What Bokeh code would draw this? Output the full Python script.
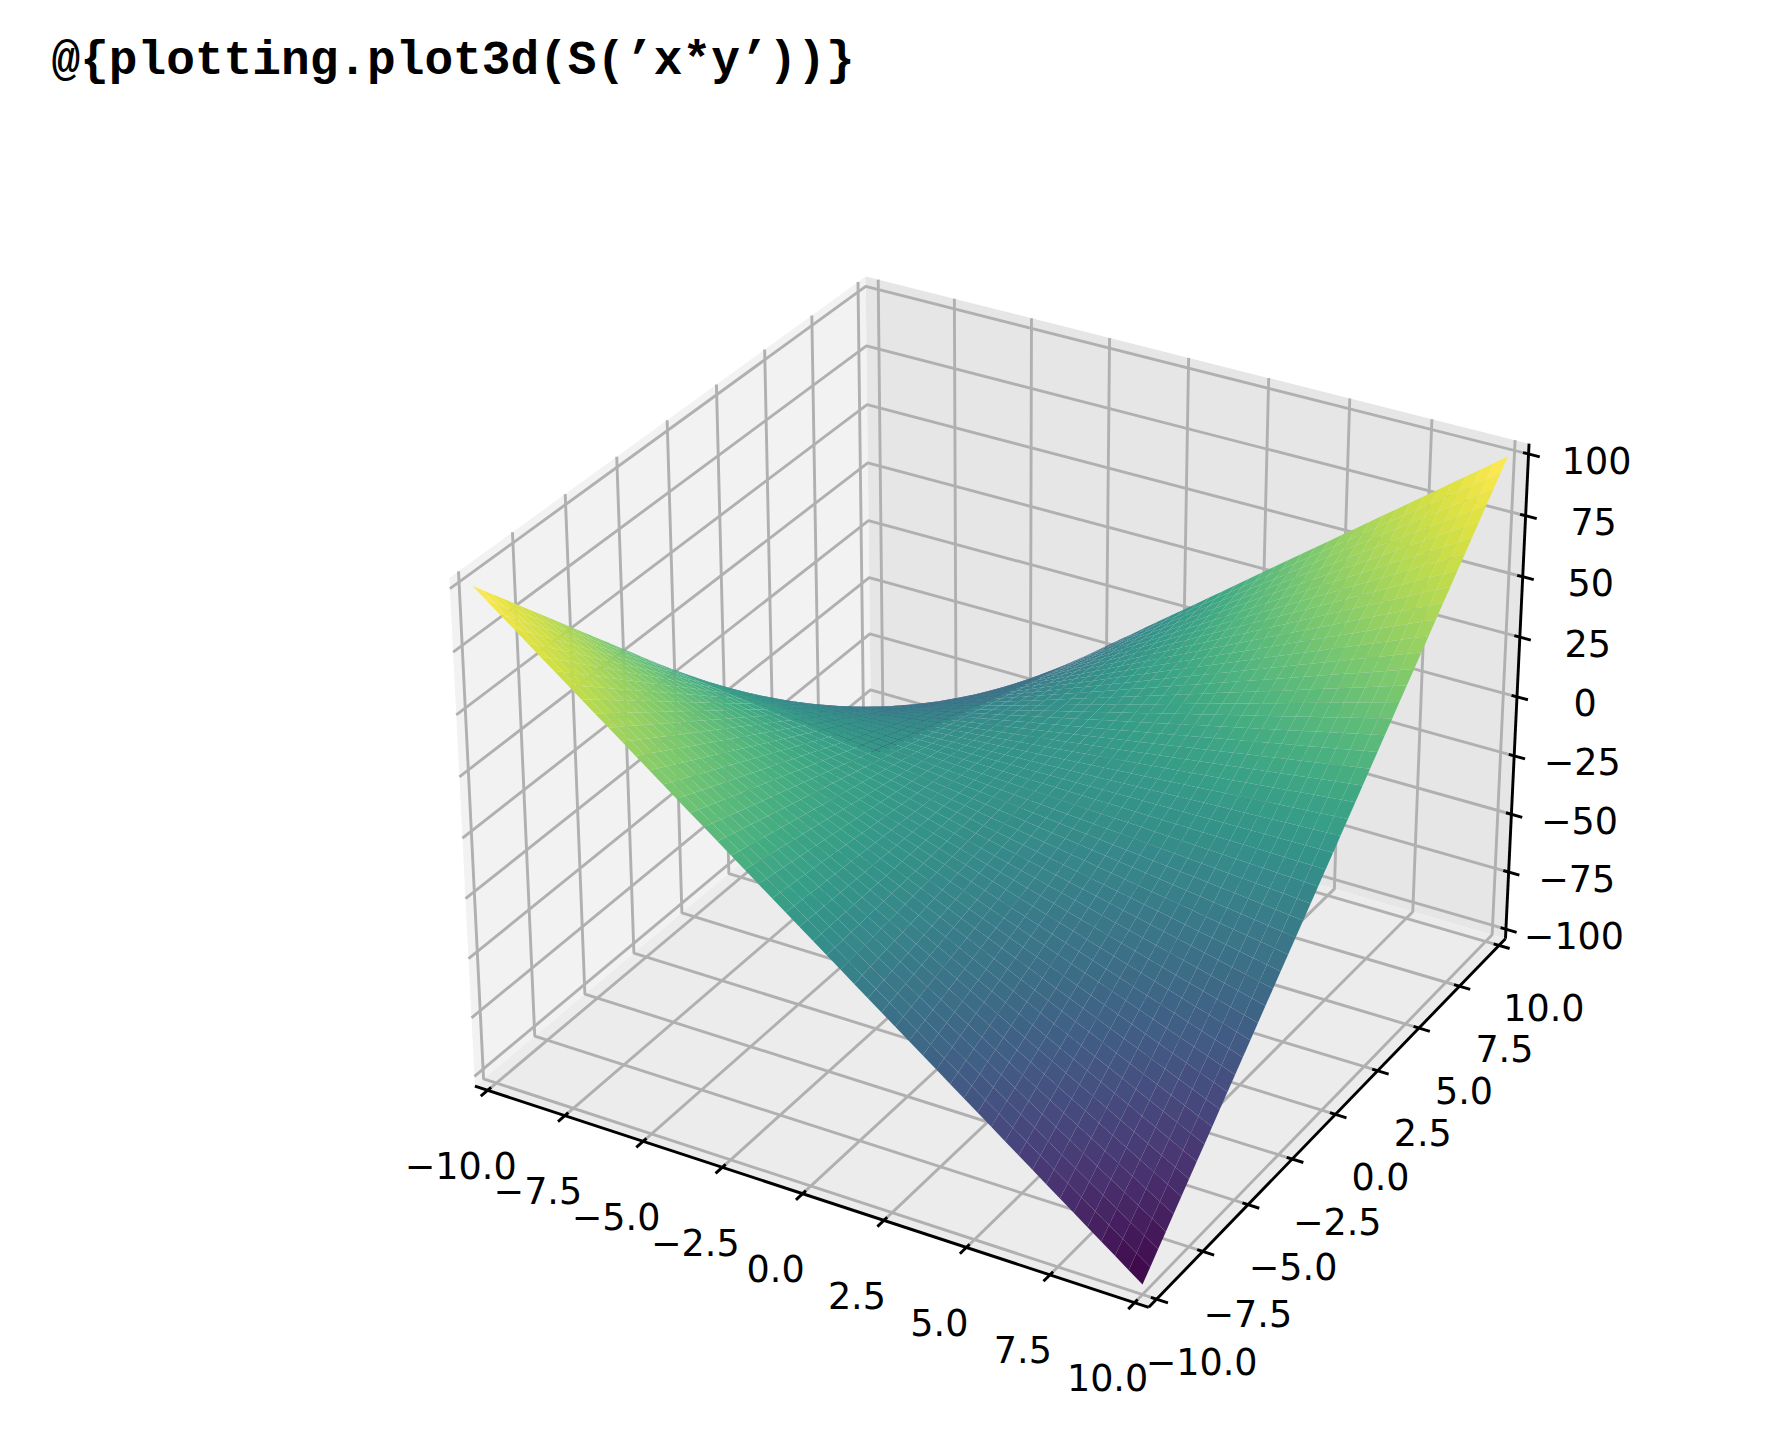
import numpy as np
from bokeh.plotting import figure, ColumnDataSource
from bokeh.models import Range1d, Title
from bokeh.core.properties import value
from bokeh.palettes import Viridis256
from bokeh.embed import file_html
from bokeh.resources import INLINE

# ---- chart content -------------------------------------------------------
title_text = "@{plotting.plot3d(S(\u2019x*y\u2019))}"
x_ticks = [-10.0, -7.5, -5.0, -2.5, 0.0, 2.5, 5.0, 7.5, 10.0]
y_ticks = [-10.0, -7.5, -5.0, -2.5, 0.0, 2.5, 5.0, 7.5, 10.0]
z_ticks = [-100, -75, -50, -25, 0, 25, 50, 75, 100]
x_limits = (-10.0, 10.0)
y_limits = (-10.0, 10.0)
z_limits = (-100.0, 100.0)
grid_points = 50                       # sympy's default sampling of plot3d
x_samples = np.linspace(*x_limits, grid_points)
y_samples = np.linspace(*y_limits, grid_points)
# The chart's title states the function: S('x*y')
z_samples = np.outer(y_samples, x_samples)

# ---- mplot3d-style camera ------------------------------------------------
ELEV, AZIM, DIST = np.radians(30), np.radians(-60), 10.0
aspect = np.array([4.0, 4.0, 3.0])
box = aspect * 1.8294640721620434 * 25 / 24 / np.linalg.norm(aspect)
R = box / 2
direction = np.array([np.cos(ELEV) * np.cos(AZIM), np.cos(ELEV) * np.sin(AZIM), np.sin(ELEV)])
eye = R + DIST * direction
w = direction
u = np.cross([0, 0, 1], w); u /= np.linalg.norm(u)
v = np.cross(w, u)

def project(x, y, z):
    """Return screen-plane x, y and camera distance."""
    P = np.stack([
        (np.asarray(x, float) - x_limits[0]) / (x_limits[1] - x_limits[0]) * box[0] - eye[0],
        (np.asarray(y, float) - y_limits[0]) / (y_limits[1] - y_limits[0]) * box[1] - eye[1],
        (np.asarray(z, float) - z_limits[0]) / (z_limits[1] - z_limits[0]) * box[2] - eye[2],
    ], axis=-1)
    d = -(P @ w)
    return (P @ u) / d, (P @ v) / d, d

xr = (x_limits[1] - x_limits[0]) / 48
yr = (y_limits[1] - y_limits[0]) / 48
zr = (z_limits[1] - z_limits[0]) / 48
x0, x1 = x_limits[0] - xr, x_limits[1] + xr
y0, y1 = y_limits[0] - yr, y_limits[1] + yr
z0, z1 = z_limits[0] - zr, z_limits[1] + zr

# view of the projection plane on the canvas
SCALE, OX, OY = 6222.824, 999.588, 765.555
FIG_W, FIG_H, FRAME_TOP = 1760, 1424, 92
LINE_W = 2.9

p = figure(width=FIG_W, height=FIG_H, output_backend="svg", toolbar_location=None,
           x_range=Range1d(-OX / SCALE, (FIG_W - OX) / SCALE),
           y_range=Range1d((OY - FIG_H) / SCALE, (OY - FRAME_TOP) / SCALE),
           min_border_left=0, min_border_right=0, min_border_bottom=0, min_border_top=FRAME_TOP)
p.axis.visible = False
p.grid.visible = False
p.outline_line_color = None
p.title = Title(text=title_text, align="left", offset=51, standoff=10,
                text_font="Liberation Mono", text_font_size="47.8px", text_font_style="bold", text_color="black")

def poly(xs, ys, zs):
    sx, sy, _ = project(xs, ys, zs)
    return list(sx), list(sy)

# panes
pane_xs, pane_ys = [], []
for xs, ys, zs in [([x0,x0,x0,x0],[y0,y1,y1,y0],[z0,z0,z1,z1]),
                   ([x0,x1,x1,x0],[y1,y1,y1,y1],[z0,z0,z1,z1]),
                   ([x0,x1,x1,x0],[y0,y0,y1,y1],[z0,z0,z0,z0])]:
    a, b = poly(xs, ys, zs); pane_xs.append(a); pane_ys.append(b)
p.patches(pane_xs, pane_ys, fill_color=["#f2f2f2", "#e6e6e6", "#ececec"], line_color=None)

# grid
gx, gy = [], []
for t in x_ticks:
    a, b = poly([t,t,t],[y0,y1,y1],[z0,z0,z1]); gx.append(a); gy.append(b)
for t in y_ticks:
    a, b = poly([x1,x0,x0],[t,t,t],[z0,z0,z1]); gx.append(a); gy.append(b)
for t in z_ticks:
    a, b = poly([x0,x0,x1],[y0,y1,y1],[t,t,t]); gx.append(a); gy.append(b)
p.multi_line(gx, gy, line_color="#b0b0b0", line_width=LINE_W)

# axis lines + ticks
ax_x, ax_y = [], []
for xs, ys, zs in [([x0,x1],[y0,y0],[z0,z0]), ([x1,x1],[y0,y1],[z0,z0]), ([x1,x1],[y1,y1],[z0,z1])]:
    a, b = poly(xs, ys, zs); ax_x.append(a); ax_y.append(b)
dx = (x_limits[1]-x_limits[0]) / 12; dy = (y_limits[1]-y_limits[0]) / 12
OUT, IN = 0.2, 0.1
for t in x_ticks:
    a, b = poly([t,t],[y0-OUT*dy,y0+IN*dy],[z0,z0]); ax_x.append(a); ax_y.append(b)
for t in y_ticks:
    a, b = poly([x1+OUT*dx,x1-IN*dx],[t,t],[z0,z0]); ax_x.append(a); ax_y.append(b)
for t in z_ticks:
    a, b = poly([x1+OUT*dx,x1-IN*dx],[y1,y1],[t,t]); ax_x.append(a); ax_y.append(b)
p.multi_line(ax_x, ax_y, line_color="black", line_width=LINE_W)

# surface: viridis softened toward its own luminance, as in the reference
def soften(hex_color, keep=0.78, lift=4):
    r, g, b = (int(hex_color[i:i+2], 16) for i in (1, 3, 5))
    y = 0.3 * r + 0.59 * g + 0.11 * b
    c = [min(255, int(round(keep * ch + (1 - keep) * y + lift))) for ch in (r, g, b)]
    return "#%02x%02x%02x" % tuple(c)
palette = [soften(c) for c in Viridis256]

X, Y = np.meshgrid(x_samples, y_samples)
sx, sy, sd = project(X, Y, z_samples)
def corners(a):
    return np.stack([a[:-1,:-1], a[:-1,1:], a[1:,1:], a[1:,:-1]], axis=-1).reshape(-1, 4)
qx, qy, qd, qz = corners(sx), corners(sy), corners(sd), corners(z_samples)
zavg = qz.mean(axis=1)
tone = (zavg - zavg.min()) / (zavg.max() - zavg.min())
# the reference's upper half sits further along the colour map
tone = tone + 0.06 * np.where(tone > 0.4, np.sin((tone - 0.4) / 0.6 * np.pi), 0)
idx = np.clip((tone * 256).astype(int), 0, 255)
order = np.argsort(-qd.mean(axis=1))
surf = ColumnDataSource(dict(xs=qx[order].tolist(), ys=qy[order].tolist(),
                             color=[palette[i] for i in idx[order]]))
p.patches("xs", "ys", source=surf, fill_color="color", line_color=None)

# tick labels
def fmt(t, dec=True):
    s = f"{abs(t):.1f}" if dec else f"{abs(t)}"
    return ("\u2212" + s) if t < 0 else s

def labels(xs, ys, zs, texts, off):
    a, b = poly(xs, ys, zs)
    p.text(a, b, text=texts, text_align="center", text_baseline="middle", x_offset=off[0], y_offset=off[1],
           text_font=value("DejaVu Sans"), text_font_size=value("36.5px"), text_color="black")

labels(x_ticks, [y0]*9, [z0]*9, [fmt(t) for t in x_ticks], (-27, 75))
labels([x1]*9, y_ticks, [z0]*9, [fmt(t) for t in y_ticks], (45, 62))
labels([x1]*9, [y1]*9, z_ticks, [fmt(t, False) for t in z_ticks], (68, 6))

open("out.html", "w").write(file_html(p, INLINE))
